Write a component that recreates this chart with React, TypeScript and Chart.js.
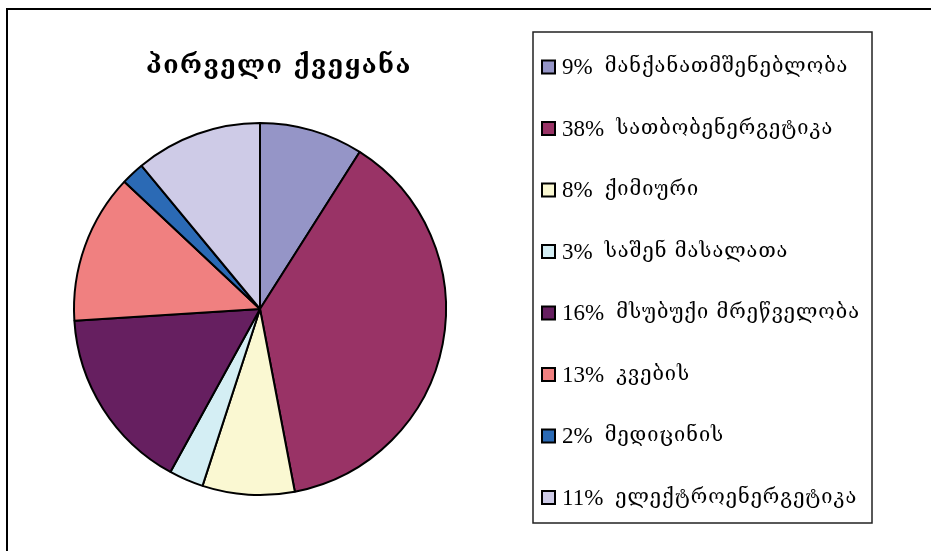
import React, { useEffect, useRef } from "react";
import { Chart, registerables } from "chart.js";

Chart.register(...registerables);

const titleText = "პირველი ქვეყანა";
const categories = [
  "მანქანათმშენებლობა",
  "სათბობენერგეტიკა",
  "ქიმიური",
  "საშენ მასალათა",
  "მსუბუქი მრეწველობა",
  "კვების",
  "მედიცინის",
  "ელექტროენერგეტიკა",
];
const shares = [9, 38, 8, 3, 16, 13, 2, 11];
const colors = [
  "#9595C7",
  "#993366",
  "#FAF8D2",
  "#D4EEF4",
  "#661F60",
  "#F08080",
  "#2B6AB5",
  "#CECBE7",
];

const decorPlugin = {
  id: "decor",
  afterDraw(chart: any) {
    const ctx = chart.ctx as CanvasRenderingContext2D;
    const W = chart.width;
    const H = chart.height;
    ctx.save();
    // outer frame (only top & left visible in crop)
    ctx.fillStyle = "#000";
    ctx.fillRect(6, 8, W - 6, 2);
    ctx.fillRect(6, 8, 2, H - 8);

    // title
    ctx.fillStyle = "#000";
    ctx.font = "bold 25px 'DejaVu Serif'";
    ctx.textAlign = "center";
    ctx.textBaseline = "alphabetic";
    (ctx as any).letterSpacing = "1.5px";
    ctx.fillText(titleText, 279, 73);

    // legend box
    const bx = 533, by = 32, bw = 339, bh = 491;
    ctx.strokeStyle = "#222";
    ctx.lineWidth = 1.5;
    ctx.strokeRect(bx, by, bw, bh);

    const labels = chart.data.labels as string[];
    const data = chart.data.datasets[0].data as number[];
    const bg = chart.data.datasets[0].backgroundColor as string[];
    const first = 67;
    const step = 61.5;
    ctx.beginPath();
    ctx.rect(bx, by, bw, bh);
    ctx.clip();
    ctx.textAlign = "left";
    ctx.textBaseline = "middle";
    labels.forEach((name, i) => {
      const cy = first + i * step;
      ctx.fillStyle = bg[i];
      ctx.fillRect(542, cy - 6.5, 13, 13);
      ctx.strokeStyle = "#000";
      ctx.lineWidth = 2;
      ctx.strokeRect(542, cy - 6.5, 13, 13);
      ctx.fillStyle = "#000";
      (ctx as any).letterSpacing = "0px";
      ctx.font = "23px 'Liberation Serif'";
      const pct = `${data[i]}%`;
      ctx.fillText(pct, 562, cy + 1);
      const pw = ctx.measureText(pct).width;
      ctx.font = "20px 'DejaVu Serif'";
      (ctx as any).letterSpacing = "1px";
      ctx.fillText(name, 562 + pw + 12, cy);
    });
    ctx.restore();
  },
};

export default function App() {
  const ref = useRef<HTMLCanvasElement>(null);
  useEffect(() => {
    const canvas = ref.current!;
    const chart = new Chart(canvas, {
      type: "pie",
      data: {
        labels: categories,
        datasets: [
          {
            data: shares,
            backgroundColor: colors,
            borderColor: "#000",
            borderWidth: 2,
          },
        ],
      },
      options: {
        responsive: false,
        animation: false,
        devicePixelRatio: 1,
        layout: { padding: { left: 72, right: 483, top: 122, bottom: 55 } },
        plugins: {
          legend: { display: false },
          title: { display: false },
          tooltip: { enabled: false },
        },
      },
      plugins: [decorPlugin],
    });
    return () => chart.destroy();
  }, []);
  return (
    <div style={{ position: "absolute", left: 0, top: 0, width: 931, height: 551, background: "#fff" }}>
      <canvas ref={ref} width={931} height={551} style={{ display: "block" }} />
    </div>
  );
}
